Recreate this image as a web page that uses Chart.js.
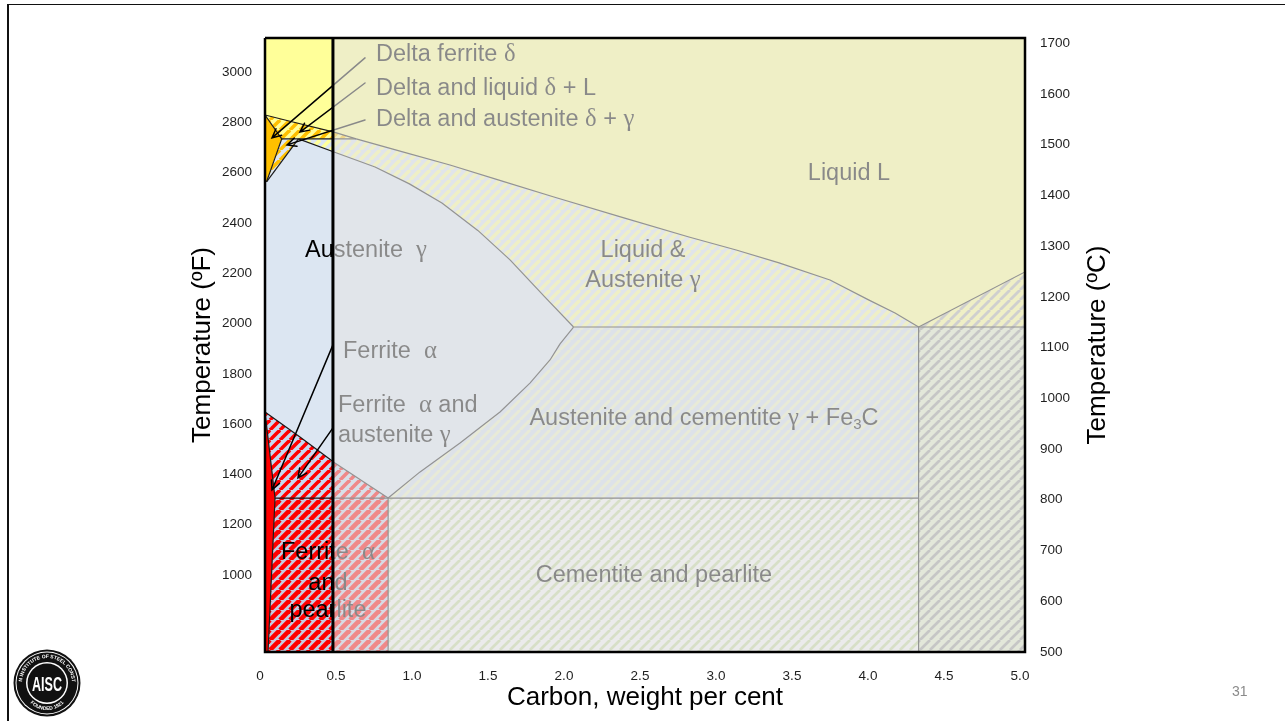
<!DOCTYPE html>
<html><head><meta charset="utf-8">
<script src="https://cdn.jsdelivr.net/npm/chart.js@4.4.1/dist/chart.umd.min.js"></script>
<style>
html,body{margin:0;padding:0;background:#fff;overflow:hidden;}
#wrap{position:absolute;left:0;top:0;width:1285px;height:721px;}
#frameL{position:absolute;left:7px;top:4px;width:2px;height:717px;background:#111;}
#frameT{position:absolute;left:7px;top:4px;width:1278px;height:1px;background:#111;}
#pageno{position:absolute;left:1232px;top:683px;font:14px "Liberation Sans",Arial,sans-serif;color:#8a8a8a;}
#logo{position:absolute;left:13px;top:649px;}
</style></head><body>
<div id="frameL"></div><div id="frameT"></div>
<div id="wrap"><canvas id="c"></canvas></div>
<svg id="logo" width="68" height="68" viewBox="0 0 68 68">
<defs>
<path id="arcTop" d="M 9 34 A 25 25 0 1 1 59 34"/>
<path id="arcBot" d="M 11 38 A 23 23 0 0 0 57 38"/>
</defs>
<circle cx="34" cy="34" r="33.5" fill="#111"/>
<circle cx="34" cy="34" r="31.5" fill="#fff"/>
<circle cx="34" cy="34" r="30.5" fill="#111"/>
<circle cx="34" cy="34" r="21" fill="#fff"/>
<circle cx="34" cy="34" r="19.5" fill="#111"/>
<text x="34" y="42" text-anchor="middle" font-family="Liberation Sans Narrow, Liberation Sans, Arial" font-weight="bold" font-size="20" fill="#fff" textLength="30" lengthAdjust="spacingAndGlyphs">AISC</text>
<text font-size="5" fill="#fff" font-family="Liberation Sans, Arial" font-weight="bold"><textPath href="#arcTop" startOffset="50%" text-anchor="middle">AMERICAN INSTITUTE OF STEEL CONSTRUCTION</textPath></text>
<text font-size="5" fill="#fff" font-family="Liberation Sans, Arial" font-weight="bold"><textPath href="#arcBot" startOffset="50%" text-anchor="middle">FOUNDED 1921</textPath></text>
</svg>
<div id="pageno">31</div>
<script>
// ---------- axes ----------
const X_MIN = 0, X_MAX = 5;
const F_MIN = 694, F_MAX = 3135;      // left axis, deg F
const C_MIN = 500, C_MAX = 1710;      // right axis, deg C
const xTicks = [0, 0.5, 1, 1.5, 2, 2.5, 3, 3.5, 4, 4.5, 5];
const fTicks = [1000, 1200, 1400, 1600, 1800, 2000, 2200, 2400, 2600, 2800, 3000];
const cTicks = [500, 600, 700, 800, 900, 1000, 1100, 1200, 1300, 1400, 1500, 1600, 1700];
const STRIP_LIMIT = 0.447; // edge of the highlighted structural-steel strip, wt% C (as drawn)

// ---------- phase boundaries [wt% C, deg F] ----------
const liquidus = [[0,2829],[0.184,2801],[0.454,2761],[0.6,2734],[0.9,2683],[1.217,2630],[1.55,2568],[1.901,2503],[2.35,2422],[2.789,2344],[3.1,2292],[3.382,2241],[3.717,2173],[3.974,2093],[4.145,2042],[4.3,1986]];
const deltaSolidus = [[0,2829],[0.11,2734]];
const peritectic = [[0.11,2734],[0.22,2734],[0.6,2734]];
const deltaLimit = [[0.11,2734],[0.01,2563]];
const gammaDeltaLimit = [[0.22,2734],[0.01,2563]];
const solidus = [[0.22,2734],[0.454,2682],[0.724,2622],[0.95,2555],[1.164,2479],[1.4,2370],[1.612,2253],[1.842,2105],[2.03,1986]];
const eutectic = [[2.03,1986],[4.3,1986],[5,1986]];
const liquidusCementite = [[4.3,1986],[5,2205]];
const acm = [[2.03,1986],[1.941,1919],[1.875,1855],[1.743,1763],[1.546,1648],[1.283,1525],[1.02,1410],[0.81,1306]];
const a3 = [[0,1648],[0.23,1549],[0.46,1445],[0.81,1306]];
const ferriteSolvus = [[0,1648],[0.066,1306],[0.02,694]];
const eutectoid = [[0.066,1306],[0.81,1306],[4.3,1306]];
const pearliteLimit = [[0.81,1306],[0.81,694]];
const eutecticLimit = [[4.3,1986],[4.3,694]];

// ---------- labels ----------
const labelTexts = ['Delta ferrite δ','Delta and liquid δ + L','Delta and austenite δ + γ','Liquid L','Austenite  γ','Liquid &','Austenite γ','Ferrite  α','Ferrite  α and','austenite γ','Austenite and cementite γ + Fe₃C','Ferrite  α','and','pearlite','Cementite and pearlite'];
const labelX = [0.73,0.73,0.73,3.842,0.263,2.487,2.487,0.513,0.48,0.48,2.888,0.414,0.414,0.414,2.559];
const labelY = [3068,2936,2809,2598,2292,2292,2169,1887,1672,1553,1624,1088,968,857,1000];
const labelAlign = ['left','left','left','center','left','center','center','left','left','left','center','center','center','center','center'];

// ---------- arrows ----------
const arrowFromX = [0.658,0.658,0.658,0.447,0.447];
const arrowFromY = [3056,2956,2809,1915,1585];
const arrowToX = [0.046,0.23,0.145,0.046,0.217];
const arrowToY = [2738,2761,2710,1338,1386];

// ---------- helpers ----------
const pctx = document.createElement('canvas').getContext('2d');
function stripes(bg, fg, frac, p) {
  p = p || 10;
  const c = document.createElement('canvas'); c.width = p; c.height = p;
  const g = c.getContext('2d');
  g.fillStyle = bg; g.fillRect(0,0,p,p);
  g.strokeStyle = fg; g.lineWidth = frac * p / Math.SQRT2;
  for (const k of [-p, 0, p]) { g.beginPath(); g.moveTo(k, p); g.lineTo(k + p, 0); g.stroke(); }
  return pctx.createPattern(c, 'repeat');
}
const pts = a => a.map(([x,y]) => ({x, y}));
const rev = a => a.slice().reverse();

const regions = [
  {poly: [[0,F_MAX],[5,F_MAX], ...rev(liquidusCementite), ...rev(liquidus).slice(1)], bg: '#FFFF99'},
  {poly: [[4.3,1986],[5,2205],[5,1986]], bg: stripes('#FFFF99','#B0B0B0',0.4)},
  {poly: [[4.3,1986],[5,1986],[5,F_MIN],[4.3,F_MIN]], bg: stripes('#E0EACB','#9A9A9A',0.38)},
  {poly: [...liquidus.slice(0,4), [0.22,2734],[0.11,2734]], bg: stripes('#FFFF99','#FFC000',0.5)},
  {poly: [[0,2829],[0.11,2734],[0.01,2563],[0,2563]], bg: '#FFC000'},
  {poly: [[0.11,2734],[0.22,2734],[0.01,2563]], bg: stripes('#DCE6F2','#FFC000',0.5)},
  {poly: [[0.22,2734], ...liquidus.slice(3), ...rev(solidus)], bg: stripes('#DCE6F2','#FFFF99',0.5)},
  {poly: [[0,2563],[0.01,2563], ...solidus, ...acm.slice(1), ...rev(a3).slice(1)], bg: '#DCE6F2'},
  {poly: [[2.03,1986],[4.3,1986],[4.3,1306], ...rev(acm)], bg: stripes('#D2DEF0','#EEF2C4',0.42)},
  {poly: [...a3, [0.066,1306]], bg: stripes('#C6D9F1','#FF0000',0.5)},
  {poly: [[0,1648],[0.066,1306],[0.02,F_MIN],[0,F_MIN]], bg: '#FF0000'},
  {poly: [[0.066,1306],[0.81,1306],[0.81,F_MIN],[0.02,F_MIN]], bg: stripes('#C5CBE3','#FF0000',0.65)},
  {poly: [[0.81,1306],[4.3,1306],[4.3,F_MIN],[0.81,F_MIN]], bg: stripes('#F4F4F4','#C3D69B',0.38)}
];
const boundaries = [liquidus, deltaSolidus, peritectic, deltaLimit, gammaDeltaLimit, solidus, eutectic, liquidusCementite, acm, a3, ferriteSolvus, eutectoid, pearliteLimit, eutecticLimit];

const datasets = [];
regions.forEach(r => datasets.push({data: pts(r.poly), fill: 'shape', backgroundColor: r.bg, borderColor: 'transparent', borderWidth: 0, pointRadius: 0, pointHitRadius: 0, tension: 0}));
boundaries.forEach(b => datasets.push({data: pts(b), fill: false, borderColor: '#1a1a1a', borderWidth: 1.2, pointRadius: 0, pointHitRadius: 0, tension: 0, borderJoinStyle: 'round'}));
const labelHookIndex = datasets.length - 1;
datasets.push({data: pts([[STRIP_LIMIT,F_MIN],[X_MAX,F_MIN],[X_MAX,F_MAX],[STRIP_LIMIT,F_MAX]]), fill: 'shape', backgroundColor: 'rgba(228,228,228,0.6)', borderColor: 'transparent', borderWidth: 0, pointRadius: 0, pointHitRadius: 0});
datasets.push({data: pts([[X_MIN,F_MAX],[X_MAX,F_MAX],[X_MAX,F_MIN],[X_MIN,F_MIN],[X_MIN,F_MAX]]), fill: false, borderColor: '#000', borderWidth: 2.5, pointRadius: 0, pointHitRadius: 0, clip: false, borderJoinStyle: 'miter'});
datasets.push({data: pts([[STRIP_LIMIT,F_MIN],[STRIP_LIMIT,F_MAX]]), fill: false, borderColor: '#000', borderWidth: 3, pointRadius: 0, pointHitRadius: 0, clip: false});
datasets.forEach((d, i) => { d.order = datasets.length - i; });

const SANS = '"Liberation Sans", Arial, sans-serif';
const SERIF = '"Liberation Serif", "Times New Roman", serif';
function drawRich(ctx, text, x, y, align, size) {
  const runs = [];
  for (const ch of text) {
    const type = /[α-ωΑ-Ω]/.test(ch) ? 'g' : (ch === '₃' ? 's' : 'n');
    if (runs.length && runs[runs.length-1].type === type) runs[runs.length-1].t += ch;
    else runs.push({type, t: ch});
  }
  const fonts = {n: size + 'px ' + SANS, g: (size * 1.05) + 'px ' + SERIF, s: Math.round(size * 0.65) + 'px ' + SANS};
  let w = 0;
  runs.forEach(r => { if (r.type === 's') r.t = '3'; ctx.font = fonts[r.type]; r.w = ctx.measureText(r.t).width; w += r.w; });
  let cx = align === 'center' ? x - w / 2 : x;
  ctx.textAlign = 'left'; ctx.textBaseline = 'middle';
  runs.forEach(r => { ctx.font = fonts[r.type]; ctx.fillText(r.t, cx, y + (r.type === 's' ? size * 0.3 : 0)); cx += r.w; });
}

const deco = {
  id: 'deco',
  afterDatasetDraw(chart, args) {
    if (args.index !== labelHookIndex) return;
    const ctx = chart.ctx, xs = chart.scales.x, ys = chart.scales.y;
    ctx.save();
    ctx.strokeStyle = '#000'; ctx.lineWidth = 1.5; ctx.lineCap = 'round';
    for (let i = 0; i < arrowFromX.length; i++) {
      const x1 = xs.getPixelForValue(arrowFromX[i]), y1 = ys.getPixelForValue(arrowFromY[i]);
      const x2 = xs.getPixelForValue(arrowToX[i]), y2 = ys.getPixelForValue(arrowToY[i]);
      const a = Math.atan2(y2 - y1, x2 - x1), L = 10, s = 0.45;
      ctx.beginPath(); ctx.moveTo(x1, y1); ctx.lineTo(x2, y2);
      ctx.moveTo(x2 - L * Math.cos(a - s), y2 - L * Math.sin(a - s)); ctx.lineTo(x2, y2);
      ctx.lineTo(x2 - L * Math.cos(a + s), y2 - L * Math.sin(a + s));
      ctx.stroke();
    }
    ctx.fillStyle = '#000';
    for (let i = 0; i < labelTexts.length; i++) {
      drawRich(ctx, labelTexts[i], xs.getPixelForValue(labelX[i]), ys.getPixelForValue(labelY[i]), labelAlign[i], 23.5);
    }
    ctx.restore();
  },
  afterDraw(chart) {
    const ctx = chart.ctx;
    ctx.save();
    ctx.translate(1098, chart.chartArea.top + (chart.chartArea.bottom - chart.chartArea.top) / 2);
    ctx.rotate(-Math.PI / 2);
    ctx.font = '26px ' + SANS; ctx.fillStyle = '#000'; ctx.textAlign = 'center'; ctx.textBaseline = 'middle';
    ctx.fillText('Temperature (ºC)', 0, 0);
    ctx.restore();
  }
};

Chart.defaults.font.family = SANS;
new Chart(document.getElementById('c'), {
  type: 'line',
  data: {datasets},
  plugins: [deco],
  options: {
    responsive: true, maintainAspectRatio: false, animation: false, devicePixelRatio: 1,
    layout: {padding: {left: 187, right: 0, top: 38, bottom: 7.4}},
    plugins: {legend: {display: false}, tooltip: {enabled: false}},
    events: [],
    scales: {
      x: {
        type: 'linear', position: 'bottom', min: X_MIN, max: X_MAX,
        grid: {display: false, drawTicks: false}, border: {display: false},
        ticks: {padding: 16, labelOffset: -5, color: '#1f1f1f', font: {size: 13.5}, autoSkip: false, maxRotation: 0,
          callback: v => v === 0 ? '0' : Number(v).toFixed(1)},
        afterBuildTicks: s => { s.ticks = xTicks.map(v => ({value: v})); },
        afterFit: s => { s.height = 61.6; },
        title: {display: true, text: 'Carbon, weight per cent', color: '#000', font: {size: 26}, padding: 0}
      },
      y: {
        type: 'linear', position: 'left', min: F_MIN, max: F_MAX,
        grid: {display: false, drawTicks: false}, border: {display: false},
        ticks: {padding: 13, color: '#1f1f1f', font: {size: 13.5}, autoSkip: false, callback: v => String(v)},
        afterBuildTicks: s => { s.ticks = fTicks.map(v => ({value: v})); },
        afterFit: s => { s.width = 78; },
        title: {display: true, text: 'Temperature (ºF)', color: '#000', font: {size: 26}, padding: 0}
      },
      y2: {
        type: 'linear', position: 'right', min: C_MIN, max: C_MAX,
        grid: {display: false, drawTicks: false}, border: {display: false},
        ticks: {padding: 15, color: '#1f1f1f', font: {size: 13.5}, autoSkip: false, callback: v => String(v)},
        afterBuildTicks: s => { s.ticks = cTicks.map(v => ({value: v})); },
        afterFit: s => { s.width = 260; }
      }
    }
  }
});
</script>
</body></html>
